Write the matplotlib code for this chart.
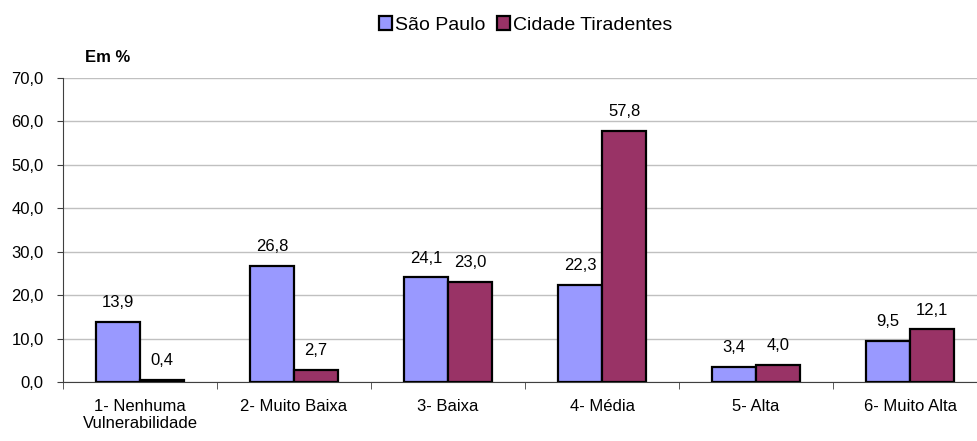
import matplotlib.pyplot as plt
import numpy as np

plt.rcParams["font.family"] = ["Liberation Sans", "DejaVu Sans"]

categorias = ["1- Nenhuma\nVulnerabilidade", "2- Muito Baixa", "3- Baixa",
              "4- Média", "5- Alta", "6- Muito Alta"]
sao_paulo = [13.9, 26.8, 24.1, 22.3, 3.4, 9.5]
tiradentes = [0.4, 2.7, 23.0, 57.8, 4.0, 12.1]
series = ["São Paulo", "Cidade Tiradentes"]
cores = ["#9999FF", "#993366"]

fs = 12

fig = plt.figure(figsize=(9.77, 4.41), dpi=100)
# eixo um pouco alem da borda direita, como no original
ax = fig.add_axes([63 / 977, 1 - 382 / 441, 924 / 977, 304 / 441])

x = np.arange(len(categorias))
w = 0.286
b1 = ax.bar(x - w / 2, sao_paulo, w, color=cores[0], edgecolor="black",
            linewidth=1.6, label=series[0], zorder=3)
b2 = ax.bar(x + w / 2, tiradentes, w, color=cores[1], edgecolor="black",
            linewidth=1.6, label=series[1], zorder=3)

# rotulos de valor acima das barras
for barras, vals in ((b1, sao_paulo), (b2, tiradentes)):
    for r, v in zip(barras, vals):
        ax.annotate(f"{v:.1f}".replace(".", ","),
                    (r.get_x() + r.get_width() / 2, v),
                    xytext=(0, 8.5), textcoords="offset points",
                    ha="center", va="bottom", fontsize=fs)

ax.set_ylim(0, 70)
ax.set_xlim(-0.5, len(categorias) - 0.5)
ax.set_yticks(np.arange(0, 71, 10))
ax.set_yticklabels([f"{v:.1f}".replace(".", ",") for v in np.arange(0, 71, 10)],
                   fontsize=fs)
ax.yaxis.grid(True, color="#c0c0c0", linewidth=1, zorder=0)
ax.set_axisbelow(True)

ax.set_xticks(x)
ax.set_xticklabels(categorias, fontsize=fs)
ax.tick_params(axis="x", length=0, pad=12)
ax.set_xticks(np.arange(-0.5, len(categorias)), minor=True)
ax.tick_params(axis="x", which="minor", length=5, color="#404040")
ax.tick_params(axis="y", length=4, color="#404040", pad=10)

for s in ("top", "right"):
    ax.spines[s].set_visible(False)
ax.spines["left"].set_color("#404040")
ax.spines["bottom"].set_color("#404040")

fig.text(85 / 977, 1 - 58 / 441, "Em %", fontsize=fs, fontweight="bold",
         va="center", ha="left")

fig.legend(loc="center", bbox_to_anchor=(526 / 977, 1 - 25 / 441), ncol=2,
           frameon=False, fontsize=14, handlelength=0.67, handleheight=0.67,
           handletextpad=0.15, columnspacing=0.6, borderpad=0)

fig.savefig("out.png", dpi=100)
